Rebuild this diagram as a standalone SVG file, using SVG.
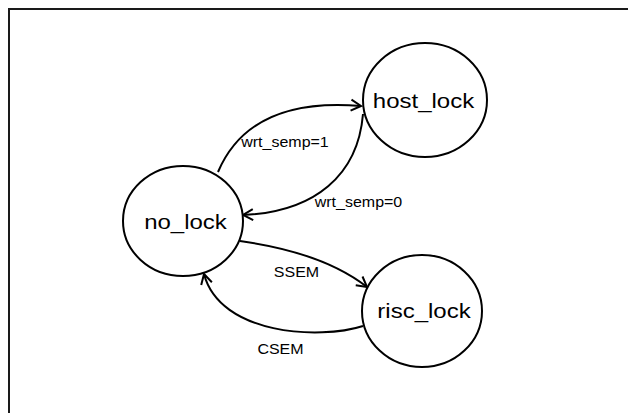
<svg xmlns="http://www.w3.org/2000/svg" width="628" height="413" viewBox="0 0 628 413">
<style>
.state{fill:#fff;stroke:#000;stroke-width:2}
.edge{fill:none;stroke:#000;stroke-width:2}
.sl{font-family:"Liberation Sans",Arial,sans-serif;font-size:24px;fill:#000;text-anchor:middle}
.el{font-family:"Liberation Sans",Arial,sans-serif;font-size:16px;fill:#000;text-anchor:middle}
</style>
<defs>
<marker id="arr" viewBox="-12 -7 14 14" markerWidth="14" markerHeight="14" refX="0" refY="0" orient="auto" markerUnits="userSpaceOnUse">
<path d="M-10,-5.5 L0,0 L-10,5.5" fill="none" stroke="#000" stroke-width="2"/>
</marker>
</defs>
<rect width="628" height="413" fill="#fff"/>
<path d="M9,420 V9 H640" fill="none" stroke="#1a1a1a" stroke-width="2"/>
<g id="connectors">
<path class="edge" d="M218,172 C240,120 290,100 361,106" marker-end="url(#arr)"/>
<path class="edge" d="M363,114 C358,175 315,212 243,215" marker-end="url(#arr)"/>
<path class="edge" d="M240,241 C290,248 335,262 367,287" marker-end="url(#arr)"/>
<path class="edge" d="M363,326 C320,340 220,335 204,274" marker-end="url(#arr)"/>
<text class="el" transform="translate(285,147) scale(1,0.87)">wrt_semp=1</text>
<text class="el" transform="translate(358.5,207) scale(1,0.87)">wrt_semp=0</text>
<text class="el" transform="translate(296.5,277) scale(1,0.87)">SSEM</text>
<text class="el" transform="translate(280.5,354) scale(1,0.87)">CSEM</text>
</g>
<g id="no_lock">
<ellipse class="state" cx="183" cy="221" rx="60" ry="55"/>
<text class="sl" transform="translate(185.5,229) scale(1,0.87)">no_lock</text>
</g>
<g id="host_lock">
<ellipse class="state" cx="425" cy="100" rx="62" ry="57"/>
<text class="sl" transform="translate(423.5,108) scale(1,0.87)">host_lock</text>
</g>
<g id="risc_lock">
<ellipse class="state" cx="422" cy="311" rx="60" ry="56"/>
<text class="sl" transform="translate(424,318) scale(1,0.87)">risc_lock</text>
</g>
</svg>
